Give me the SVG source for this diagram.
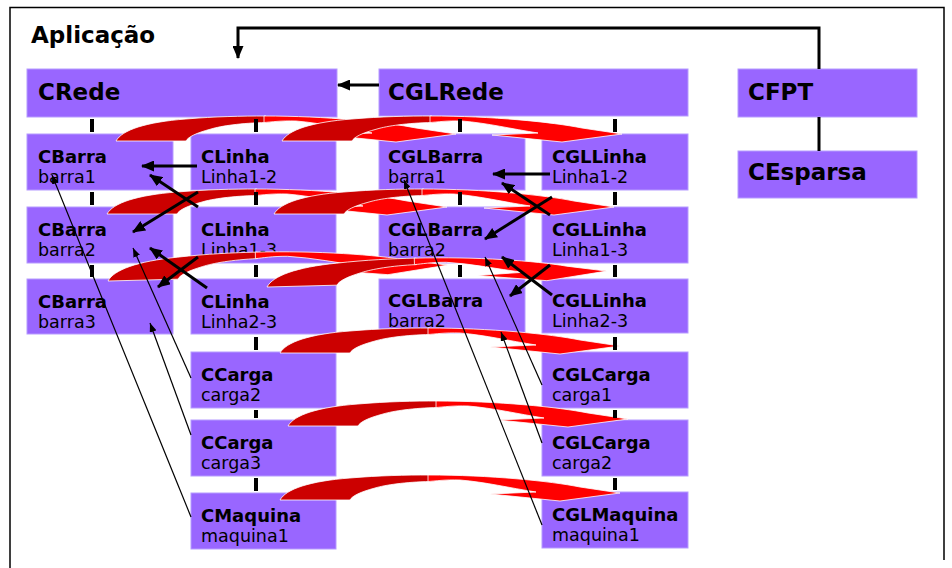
<svg xmlns="http://www.w3.org/2000/svg" xmlns:xlink="http://www.w3.org/1999/xlink" width="952" height="568" viewBox="0 0 952 568">
<style>
.box{fill:#9966FF;stroke:#B69BFF;stroke-width:1}
.t{font-family:"DejaVu Sans",Verdana,sans-serif;fill:#000}
.big{font-size:23px;font-weight:bold}
.hd{font-size:18px;font-weight:bold}
.sub{font-size:17.5px}
.dk{fill:#CC0000;stroke:#fff;stroke-width:0.8}
.lt{fill:#FF0000;stroke:#fff;stroke-width:0.8}
.tick{fill:#000}
.thick{stroke:#000;stroke-width:3;fill:none}
.thin{stroke:#000;stroke-width:1.2;fill:none}
.frame{stroke:#000;stroke-width:1.5;fill:none}
</style>
<defs>
<marker id="ah" markerUnits="userSpaceOnUse" markerWidth="13" markerHeight="11" refX="12" refY="5.5" orient="auto">
<path d="M0,0 L13,5.5 L0,11 Z" fill="#000"/>
</marker>
<marker id="as" markerUnits="userSpaceOnUse" markerWidth="9" markerHeight="7" refX="9" refY="3.5" orient="auto">
<path d="M0,0 L9,3.5 L0,7 Z" fill="#000"/>
</marker>
<g id="arc">
<path class="dk" d="M0,0 C6,-11 30,-19 70,-22 C100,-24.5 125,-25 150,-25 L150,-18.5 C125,-18 105,-15 95,-12 C80,-8 72,-4 70,0 Z"/>
<path class="lt" d="M148,-25 C210,-25 270,-19 300,-13 L340,-7 L280,1 L210,-6 L256,-8 C230,-12 205,-18 180,-20 C165,-20.5 155,-19 148,-18.5 Z"/>
</g>
</defs>

<g id="frame">
<path class="frame" d="M10,568 V7.5 H944 V560"/>
</g>
<text class="t big" x="31" y="43">Aplicação</text>

<g id="CRede"><rect class="box" x="27" y="69" width="310" height="48"/><text class="t big" x="38" y="100">CRede</text></g>
<g id="CGLRede"><rect class="box" x="379" y="69" width="309" height="47"/><text class="t big" x="388" y="100">CGLRede</text></g>
<g id="CFPT"><rect class="box" x="738" y="69" width="179" height="48"/><text class="t big" x="748" y="100">CFPT</text></g>
<g id="CEsparsa"><rect class="box" x="738" y="151" width="179" height="47"/><text class="t big" x="748" y="180">CEsparsa</text></g>

<g id="CBarra1"><rect class="box" x="27" y="134" width="146" height="56"/><text class="t hd" x="38" y="163">CBarra</text><text class="t sub" x="38" y="183">barra1</text></g>
<g id="CLinha12"><rect class="box" x="191" y="134" width="145" height="56"/><text class="t hd" x="201" y="163">CLinha</text><text class="t sub" x="201" y="183">Linha1-2</text></g>
<g id="CGLBarra1"><rect class="box" x="379" y="134" width="146" height="56"/><text class="t hd" x="388" y="163">CGLBarra</text><text class="t sub" x="388" y="183">barra1</text></g>
<g id="CGLLinha12"><rect class="box" x="542" y="134" width="146" height="56"/><text class="t hd" x="552" y="163">CGLLinha</text><text class="t sub" x="552" y="183">Linha1-2</text></g>

<g id="CBarra2"><rect class="box" x="27" y="207" width="146" height="56"/><text class="t hd" x="38" y="236">CBarra</text><text class="t sub" x="38" y="256">barra2</text></g>
<g id="CLinha13"><rect class="box" x="191" y="207" width="145" height="56"/><text class="t hd" x="201" y="236">CLinha</text><text class="t sub" x="201" y="256">Linha1-3</text></g>
<g id="CGLBarra2"><rect class="box" x="379" y="207" width="146" height="56"/><text class="t hd" x="388" y="236">CGLBarra</text><text class="t sub" x="388" y="256">barra2</text></g>
<g id="CGLLinha13"><rect class="box" x="542" y="207" width="146" height="56"/><text class="t hd" x="552" y="236">CGLLinha</text><text class="t sub" x="552" y="256">Linha1-3</text></g>

<g id="CBarra3"><rect class="box" x="27" y="279" width="146" height="55"/><text class="t hd" x="38" y="308">CBarra</text><text class="t sub" x="38" y="328">barra3</text></g>
<g id="CLinha23"><rect class="box" x="191" y="279" width="145" height="55"/><text class="t hd" x="201" y="308">CLinha</text><text class="t sub" x="201" y="328">Linha2-3</text></g>
<g id="CGLBarra3"><rect class="box" x="379" y="279" width="146" height="54"/><text class="t hd" x="388" y="307">CGLBarra</text><text class="t sub" x="388" y="327">barra2</text></g>
<g id="CGLLinha23"><rect class="box" x="542" y="279" width="146" height="54"/><text class="t hd" x="552" y="307">CGLLinha</text><text class="t sub" x="552" y="327">Linha2-3</text></g>

<g id="CCarga2"><rect class="box" x="191" y="352" width="145" height="56"/><text class="t hd" x="201" y="381">CCarga</text><text class="t sub" x="201" y="401">carga2</text></g>
<g id="CCarga3"><rect class="box" x="191" y="420" width="145" height="56"/><text class="t hd" x="201" y="449">CCarga</text><text class="t sub" x="201" y="469">carga3</text></g>
<g id="CMaquina1"><rect class="box" x="191" y="493" width="145" height="56"/><text class="t hd" x="201" y="522">CMaquina</text><text class="t sub" x="201" y="542">maquina1</text></g>

<g id="CGLCarga1"><rect class="box" x="542" y="352" width="146" height="56"/><text class="t hd" x="552" y="381">CGLCarga</text><text class="t sub" x="552" y="401">carga1</text></g>
<g id="CGLCarga2"><rect class="box" x="542" y="420" width="146" height="56"/><text class="t hd" x="552" y="449">CGLCarga</text><text class="t sub" x="552" y="469">carga2</text></g>
<g id="CGLMaquina1"><rect class="box" x="542" y="492" width="146" height="56"/><text class="t hd" x="552" y="521">CGLMaquina</text><text class="t sub" x="552" y="541">maquina1</text></g>

<g id="connectors">
<g id="arcs">
<use xlink:href="#arc" transform="translate(116,141)"/>
<use xlink:href="#arc" transform="translate(282,141)"/>
<use xlink:href="#arc" transform="translate(107,214)"/>
<use xlink:href="#arc" transform="translate(274,214)"/>
<use xlink:href="#arc" transform="translate(108,281) rotate(-1.5)"/>
<use xlink:href="#arc" transform="translate(267,287) rotate(-1.5)"/>
<use xlink:href="#arc" transform="translate(280,353)"/>
<use xlink:href="#arc" transform="translate(288,426)"/>
<use xlink:href="#arc" transform="translate(280,500)"/>
</g>
<g id="ticks">
<rect class="tick" x="90" y="119" width="4" height="13"/>
<rect class="tick" x="90" y="192" width="4" height="13"/>
<rect class="tick" x="90" y="265" width="4" height="12"/>
<rect class="tick" x="254" y="119" width="4" height="13"/>
<rect class="tick" x="254" y="192" width="4" height="13"/>
<rect class="tick" x="254" y="265" width="4" height="12"/>
<rect class="tick" x="254" y="337" width="4" height="13"/>
<rect class="tick" x="254" y="410" width="4" height="8"/>
<rect class="tick" x="254" y="478" width="4" height="13"/>
<rect class="tick" x="458" y="119" width="4" height="13"/>
<rect class="tick" x="458" y="192" width="4" height="13"/>
<rect class="tick" x="458" y="265" width="4" height="12"/>
<rect class="tick" x="613" y="119" width="4" height="13"/>
<rect class="tick" x="613" y="192" width="4" height="13"/>
<rect class="tick" x="613" y="265" width="4" height="12"/>
<rect class="tick" x="613" y="337" width="4" height="13"/>
<rect class="tick" x="613" y="410" width="4" height="8"/>
<rect class="tick" x="613" y="478" width="4" height="12"/>
</g>
<path class="thick" d="M819,69 V28 H238 V58" marker-end="url(#ah)"/>
<path class="thick" d="M819,117 V151"/>
<path class="thick" d="M379,85 H338" marker-end="url(#ah)"/>
<g id="assoc">
<path class="thick" d="M197,166 L142,166" marker-end="url(#ah)"/>
<path class="thick" d="M198,192 L133,232" marker-end="url(#ah)"/>
<path class="thick" d="M198,207 L150,175" marker-end="url(#ah)"/>
<path class="thick" d="M198,257 L158,287" marker-end="url(#ah)"/>
<path class="thick" d="M207,288 L150,248" marker-end="url(#ah)"/>
<path class="thick" d="M550,174 L493,174" marker-end="url(#ah)"/>
<path class="thick" d="M552,197 L485,239" marker-end="url(#ah)"/>
<path class="thick" d="M550,215 L502,183" marker-end="url(#ah)"/>
<path class="thick" d="M550,265 L510,296" marker-end="url(#ah)"/>
<path class="thick" d="M552,295 L502,257" marker-end="url(#ah)"/>
</g>
<g id="refs">
<path class="thin" d="M191,517 L52,175" marker-end="url(#as)"/>
<path class="thin" d="M191,378 L133,248" marker-end="url(#as)"/>
<path class="thin" d="M191,435 L150,323" marker-end="url(#as)"/>
<path class="thin" d="M542,525 L404,180" marker-end="url(#as)"/>
<path class="thin" d="M542,385 L485,257" marker-end="url(#as)"/>
<path class="thin" d="M542,443 L501,332" marker-end="url(#as)"/>
</g>
</g>
</svg>
